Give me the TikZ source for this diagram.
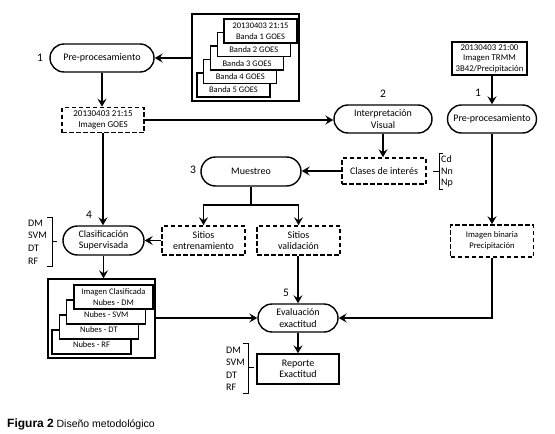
\documentclass[tikz,border=0pt]{standalone}
\usepackage{fontspec}
\setmainfont{Carlito}
\newfontfamily\capfont{Liberation Sans}
\usetikzlibrary{arrows.meta,shapes.misc}
\begin{document}
\begin{tikzpicture}[x=1pt,y=-1pt,
  conn/.style={line width=1.9pt,-{Stealth[length=8pt,width=9pt,inset=3pt]}},
  plainconn/.style={line width=1.9pt},
  stad/.style={rounded rectangle,draw,line width=1.4pt,align=center,font=\fontsize{10}{11.5}\selectfont,inner sep=1pt,minimum height=28pt},
  dbox/.style={rectangle,draw,dash pattern=on 4.5pt off 2.5pt,line width=1.6pt,align=center,font=\fontsize{10}{11.5}\selectfont,inner sep=1pt},
  sbox/.style={rectangle,draw,line width=1.4pt,align=center,inner sep=1pt},
  pane/.style={draw,line width=1.4pt,fill=white},
  num/.style={font=\fontsize{11.5}{12}\selectfont,inner sep=0pt},
  small/.style={font=\fontsize{8.5}{10}\selectfont,inner sep=0pt},
  lbl/.style={font=\fontsize{10}{11}\selectfont,inner sep=0pt,anchor=west},
  brace/.style={line width=0.6pt},
]
\useasboundingbox (0,0) rectangle (555,434);

% --- top left: bands box
\node[sbox,minimum width=107pt,minimum height=87pt] (bands) at (245.5,57.5) {};
\draw[pane] (197,73) rectangle (270,97);
\node[small] (t5) at (233.5,90) {Banda 5 GOES};
\draw[pane] (203.75,59.5) rectangle (276.75,83.5);
\node[small] (t4) at (240.25,77) {Banda 4 GOES};
\draw[pane] (210.5,46) rectangle (283.5,70);
\node[small] (t3) at (247,63.5) {Banda 3 GOES};
\draw[pane] (217.25,32.5) rectangle (290.25,56.5);
\node[small] (t2) at (253.75,50) {Banda 2 GOES};
\draw[pane] (224,19) rectangle (297,43);
\node[small,align=center] (t1) at (260.5,31.5) {20130403 21:15\\[1pt]Banda 1 GOES};

% --- main nodes
\node[stad,minimum width=106pt] (pre1) at (102,58) {Pre-procesamiento};
\node[num] (n1a) at (40,58) {1};
\node[dbox,minimum width=82pt,minimum height=25pt,font=\fontsize{9}{10.5}\selectfont] (goes) at (103,120) {20130403 21:15\\Imagen GOES};
\node[stad,minimum width=100pt] (interp) at (383,119) {Interpretación\\Visual};
\node[num] (n2) at (383,94) {2};
\node[sbox,minimum width=75pt,minimum height=33pt,font=\fontsize{8.8}{10.5}\selectfont] (trmm) at (489.5,58.5) {20130403 21:00\\Imagen TRMM\\3B42/Precipitación};
\node[stad,minimum width=91pt] (pre2) at (492,119) {Pre-procesamiento};
\node[num] (n1b) at (478,93) {1};
\node[stad,minimum width=102pt,minimum height=29pt] (mu) at (251,171.5) {Muestreo};
\node[num] (n3) at (193,170) {3};
\node[dbox,minimum width=84pt,minimum height=26pt] (clases) at (384,171) {Clases de interés};
\node[dbox,minimum width=83pt,minimum height=29pt] (sitE) at (203.5,240.5) {Sitios\\entrenamiento};
\node[dbox,minimum width=83pt,minimum height=29pt] (sitV) at (298.5,240.5) {Sitios\\validación};
\node[stad,minimum width=83pt,minimum height=29pt] (clas) at (103.5,240.5) {Clasificación\\Supervisada};
\node[num] (n4) at (89,215) {4};
\node[dbox,minimum width=83pt,minimum height=32pt,font=\fontsize{8.6}{11}\selectfont] (bin) at (492,241) {Imagen binaria\\Precipitación};
\node[stad,minimum width=82pt] (eval) at (298,318) {Evaluación\\exactitud};
\node[num] (n5) at (286,293) {5};
\node[sbox,minimum width=82pt,minimum height=30pt,font=\fontsize{10}{11.5}\selectfont] (rep) at (298,369) {Reporte\\Exactitud};

% --- classified stack
\node[sbox,minimum width=107pt,minimum height=79pt] (stack) at (101.5,318.5) {};
\draw[pane] (52,330) rectangle (131,354);
\node[small] (c4) at (91.5,345) {Nubes - RF};
\draw[pane] (59.4,315) rectangle (138.4,339);
\node[small] (c3) at (98.9,330) {Nubes - DT};
\draw[pane] (66.7,300) rectangle (145.7,324);
\node[small] (c2) at (106.2,315) {Nubes - SVM};
\draw[pane] (74,285) rectangle (153,309);
\node[small,align=center] (c1) at (113.5,297.5) {Imagen Clasificada\\[1pt]Nubes - DM};

% --- braces and labels
\draw[brace] (47,217) -- (52,217) -- (52,266) -- (47,266) (52,241) -- (57,241);
\node[lbl] (l1) at (28,223) {DM};
\node[lbl] (l2) at (28,235.5) {SVM};
\node[lbl] (l3) at (28,248) {DT};
\node[lbl] (l4) at (28,261) {RF};

\draw[brace] (243,343) -- (248,343) -- (248,393) -- (243,393) (248,367) -- (254,367);
\node[lbl] (r1) at (226,350) {DM};
\node[lbl] (r2) at (226,362.5) {SVM};
\node[lbl] (r3) at (226,375) {DT};
\node[lbl] (r4) at (226,387.5) {RF};

\draw[brace] (443,153) -- (439,153) -- (439,189) -- (443,189) (439,171) -- (433,171);
\node[lbl] (k1) at (441,159) {Cd};
\node[lbl] (k2) at (441,171) {Nn};
\node[lbl] (k3) at (441,183) {Np};

% --- connectors
\draw[conn] (bands.west |- pre1.east) -- (pre1.east);
\draw[conn] (pre1.south) -- (pre1.south |- goes.north);
\draw[conn] (goes.east) -- (goes.east -| interp.west);
\draw[conn] (trmm.south -| pre2.north) -- (pre2.north);
\draw[conn] (interp.south) -- (interp.south |- clases.north);
\draw[conn] (clases.west) -- (clases.west -| mu.east);
\coordinate (spl) at (251,205);
\draw[plainconn] (mu.south) -- (spl);
\draw[conn] (spl) -| (sitE.north);
\draw[conn] (spl) -| (sitV.north);
\draw[conn] (sitE.west) -- (sitE.west -| clas.east);
\draw[conn] (goes.south) -- (goes.south |- clas.north);
\draw[conn] (clas.south) -- (clas.south |- stack.north);
\draw[conn] (stack.east |- eval.west) -- (eval.west);
\draw[conn] (sitV.south -| eval.north) -- (eval.north);
\draw[conn] (pre2.south) -- (bin.north);
\draw[conn] (bin.south) |- (eval.east);
\draw[conn] (eval.south) -- (rep.north);

% --- caption
\node[anchor=base west,inner sep=0pt,font=\capfont] (cap) at (7,427) {{\fontsize{12}{14}\selectfont\bfseries Figura 2} {\fontsize{10.5}{12}\selectfont Diseño metodológico}};
\end{tikzpicture}
\end{document}
